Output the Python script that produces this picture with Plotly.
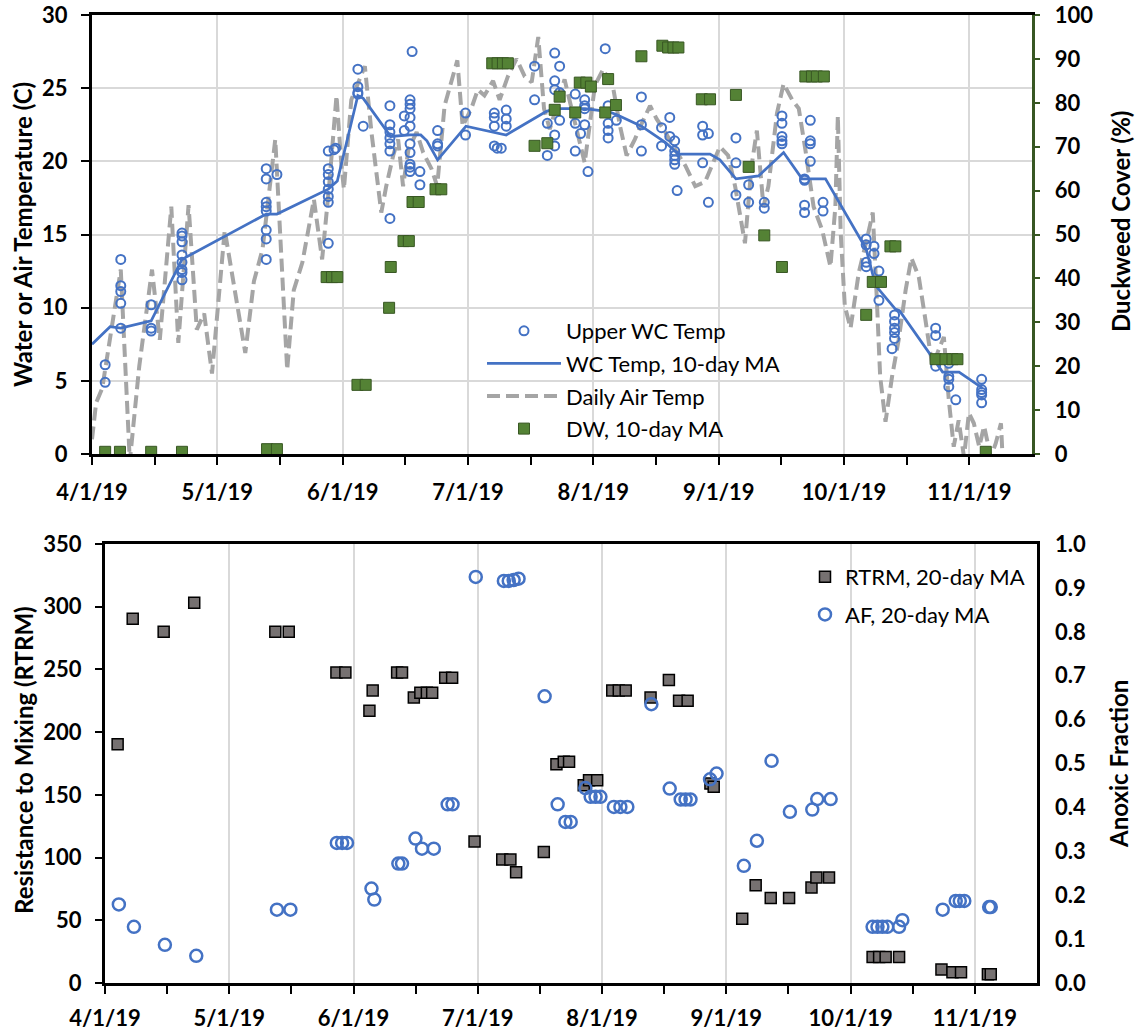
import pandas as pd
import plotly.graph_objects as go

START = pd.Timestamp("2019-04-01")

# ---------------- data (x values are days after 4/1/2019) ----------------
wc_day = [3.2, 3.2,
          7.0, 7.0, 7.0, 7.0, 7.0,
          14.4, 14.4, 14.4,
          21.9, 21.9, 21.9, 21.9, 21.9, 21.9, 21.9, 21.9,
          42.4, 42.4, 42.4, 42.4, 42.4, 42.4, 42.4, 42.4,
          45.0,
          57.5, 57.5, 57.5, 57.5, 57.5, 57.5, 57.5, 57.5,
          58.9, 59.3,
          64.7, 64.7, 64.7, 64.7,
          66.0,
          72.5, 72.5, 72.5, 72.5, 72.5, 72.5, 72.5,
          76.0, 76.0,
          77.4, 77.4, 77.4, 77.4, 77.4, 77.4, 77.4, 77.4, 77.4, 77.4,
          77.9,
          79.8, 79.8,
          84.1, 84.1, 84.1,
          90.9, 90.9,
          97.9, 97.9, 97.9, 97.9, 98.6, 99.6,
          100.8, 100.8, 100.8,
          107.7, 107.7,
          110.8, 110.8,
          112.6, 112.6, 112.6, 112.6, 112.6,
          113.8, 113.8, 113.8,
          117.6, 117.6, 117.6,
          118.9,
          119.9, 119.9, 119.9, 119.9, 120.7,
          124.9,
          125.6, 125.6, 125.6, 125.6,
          127.6,
          133.7, 133.7, 133.7,
          138.6, 138.6,
          140.6, 140.6,
          141.8, 141.8, 141.8, 141.8, 141.8,
          142.4,
          148.6, 148.6, 148.6,
          150.0, 150.0,
          156.7, 156.7, 156.7,
          159.8, 159.8,
          163.6, 163.6,
          167.9, 167.9, 167.9, 167.9, 167.9,
          173.4, 173.4, 173.4, 173.4,
          174.8, 174.8, 174.8, 174.8,
          177.9, 177.9,
          188.4, 188.4, 188.4, 188.4,
          190.3, 190.3,
          191.5, 191.5,
          195.3, 195.3, 195.3, 195.3, 195.3, 194.7,
          205.3, 205.3, 205.3,
          208.5, 208.5, 208.5, 208.5, 210.2,
          216.5, 216.5, 216.5, 216.5, 216.5]
wc_temp = [6.1, 4.9,
           13.3, 11.5, 11.1, 10.3, 8.6,
           10.2, 8.6, 8.4,
           15.1, 14.9, 14.5, 13.6, 13.1, 12.6, 12.4, 11.9,
           19.5, 18.8, 17.2, 16.9, 16.6, 15.3, 14.7, 13.3,
           19.1,
           20.7, 19.5, 19.1, 18.6, 18.1, 17.6, 17.2, 14.4,
           20.8, 20.9,
           26.3, 25.1, 24.7, 24.6,
           22.4,
           23.8, 22.5, 22.0, 21.6, 21.2, 20.7, 16.1,
           23.1, 22.1,
           24.2, 23.9, 23.6, 23.0, 22.4, 21.2, 20.6, 19.8, 19.6, 19.3,
           27.5,
           19.3, 18.4,
           22.1, 21.2, 21.05,
           23.3, 21.8,
           23.3, 23.0, 22.4, 21.05, 20.9, 20.9,
           23.5, 22.9, 22.4,
           26.5, 24.2,
           22.6, 20.4,
           27.4, 25.5, 24.9, 21.8, 21.05,
           26.5, 24.7, 22.8,
           24.6, 22.6, 20.7,
           21.9,
           24.2, 23.8, 23.6, 22.5, 19.3,
           27.7,
           23.8, 22.6, 22.1, 21.6,
           22.8,
           24.4, 22.5, 20.7,
           22.3, 21.05,
           23.0, 21.7,
           21.4, 20.7, 20.4, 20.1, 19.8,
           18.0,
           22.4, 21.8, 19.9,
           21.9, 17.2,
           21.6, 19.9, 17.7,
           18.4, 17.2,
           17.2, 16.8,
           23.1, 22.6, 21.7, 21.4, 21.2,
           18.8, 18.7, 17.0, 16.5,
           22.8, 21.4, 21.2, 20.0,
           17.2, 16.6,
           14.7, 14.3, 13.1, 12.8,
           14.2, 13.7,
           12.5, 10.5,
           9.5, 9.06, 8.6, 8.3, 7.9, 7.2,
           8.6, 8.1, 6.0,
           6.2, 5.3, 5.1, 4.6, 3.7,
           5.1, 4.4, 4.2, 4.04, 3.5]

wcma_day = [0, 4.4, 7.0, 14.4, 21.9, 42.4, 45.0, 57.5, 59.7, 64.7, 66.0, 72.7,
            77.4, 80.0, 81.5, 84.1, 91.0, 97.9, 100.8, 110.5, 112.6, 120.0,
            125.6, 127.6, 133.7, 139.5, 142.7, 150.4, 152.8, 156.7, 162.2,
            168.3, 172.8, 178.5, 188.4, 190.7, 195.5, 196.5, 204.5, 207.0,
            211.0, 216.7]
wcma_temp = [7.5, 8.7, 8.6, 9.1, 13.3, 16.4, 16.4, 18.1, 18.65, 24.5, 24.3, 21.7,
             21.8, 21.8, 21.4, 20.1, 22.4, 22.0, 21.8, 23.4, 23.6, 23.6,
             23.4, 23.2, 22.4, 21.3, 20.5, 20.5, 20.1, 18.8, 19.0,
             20.6, 18.8, 18.8, 14.0, 11.5, 9.9, 9.8, 6.55, 5.6,
             5.6, 4.5]

air_day = [0, 1, 2.5, 5, 7, 9.2, 11.5, 14.6, 16.5, 19.3, 21, 23.5, 25.5, 27.3,
           29.2, 32.3, 34.5, 37.3, 39.4, 41.5, 44.6, 47.5, 49.1, 51.2, 54, 56,
           57.7, 59.5, 60.7, 61.3, 63.1, 66.4, 68, 69.2, 70.4, 71.6, 73.3, 74.5,
           75.7, 77, 79, 80.6, 82.6, 84, 85.8, 87.8, 88.9, 90.2, 92.3, 93.9,
           95.5, 97.6, 99.2, 101.2, 103.3, 105.3, 107, 108.6, 110, 111.4,
           113.4, 115, 116.7, 118.7, 119.9, 122.4, 124.4, 126.9, 128.5, 130.1,
           132.1, 133.8, 135.8, 137.4, 139.5, 141.9, 144.4, 146.8, 149.2,
           152.8, 154.8, 156.5, 158.9, 160.5, 161.8, 163.4, 164.6, 166.7,
           168.3, 170.4, 172, 173.6, 175.6, 177.7, 179.7, 180.9, 181.5, 182.2,
           183.2, 184.6, 186.6, 188.6, 190, 191, 191.8, 193.1, 194.7, 196.3,
           198, 199.4, 201.2, 202.8, 204.5, 206, 207.3, 208.5, 209.7, 210.9,
           212.2, 213.4, 214.6, 215.9, 217.1, 218.7, 219.9, 221.2, 221.6]
air_temp = [1.0, 3.5, 4.5, 9.0, 12.6, -0.5, 6.0, 12.6, 7.8, 16.9, 7.6, 17.0, 8.5,
            9.6, 5.5, 15.3, 11.7, 6.9, 11.8, 14.0, 21.5, 5.75, 11.2, 13.1, 17.4,
            13.3, 18.3, 24.5, 19.7, 18.1, 24.2, 26.5, 22.0, 19.2, 16.5, 18.3,
            20.4, 21.5, 18.3, 20.8, 22.0, 20.6, 19.5, 18.3, 23.8, 25.8, 26.9,
            22.4, 23.6, 24.9, 24.5, 25.5, 24.2, 25.8, 27.0, 25.8, 25.4, 28.5,
            23.6, 22.2, 24.2, 25.6, 23.6, 21.3, 19.9, 25.2, 26.3, 24.9, 22.4,
            20.4, 21.5, 22.6, 23.8, 22.9, 22.0, 20.8, 19.7, 18.3, 18.6,
            21.0, 20.4, 18.3, 14.4, 19.7, 22.1, 16.9, 18.3, 23.3,
            25.3, 24.2, 23.6, 20.8, 16.9, 15.3, 12.8, 16.9, 23.1, 15.1,
            10.1, 8.6, 12.4, 14.7, 16.5, 10.5, 5.3, 2.2, 5.3, 7.8,
            11.2, 13.4, 12.1, 9.2, 6.0, 7.1, 8.0, 3.7, 0.5, 2.3,
            -0.2, 2.8, 2.1, 0.5, 1.9, -0.2, 0.7, 2.1, -0.3]

dw_day = [3.2, 6.8, 14.4, 21.9, 42.6, 45.0, 57.1, 58.4, 59.7, 64.6, 66.6,
          72.3, 72.7, 75.8, 77.1, 78.0, 79.5, 83.6, 85.0, 97.4, 98.7, 100.0,
          101.2, 107.7, 110.8, 112.6, 113.8, 117.6, 118.7, 120.3, 121.4,
          124.9, 125.6, 127.5, 133.7, 138.8, 140.2, 141.5, 142.7, 148.4,
          150.4, 156.7, 159.8, 163.6, 167.9, 173.6, 175.2, 176.4, 178.1,
          188.4, 190.0, 192.0, 194.3, 195.5, 205.3, 207.7, 209.4, 210.6,
          217.5]
dw_cover = [0.5, 0.5, 0.5, 0.5, 1.1, 1.1, 40.3, 40.3, 40.3, 15.75, 15.75,
            33.3, 42.6, 48.5, 48.5, 57.4, 57.4, 60.3, 60.3, 89.0, 89.0, 89.0,
            89.0, 70.2, 70.8, 78.4, 81.4, 77.8, 84.6, 84.6, 83.7,
            77.8, 85.4, 79.5, 90.6, 93.0, 92.6, 92.6, 92.6, 80.8,
            80.8, 81.8, 65.4, 49.8, 42.6, 86.0, 86.0, 86.0, 86.0,
            31.7, 39.2, 39.2, 47.3, 47.3, 21.6, 21.6, 21.6, 21.6,
            0.5]

rtrm_day = [3.1, 6.8, 14.4, 21.9, 41.8, 45.1, 56.8, 59.0, 64.9, 65.7, 71.7,
            72.9, 75.8, 77.4, 79.0, 80.3, 83.5, 85.2, 90.7, 97.5, 99.5, 100.9,
            107.7, 110.8, 112.6, 113.9, 117.5, 118.8, 120.8, 124.5, 126.1,
            127.8, 133.9, 138.4, 140.9, 143.0, 148.6, 149.4, 156.4, 159.7,
            163.4, 167.9, 173.4, 174.6, 177.7, 188.4, 190.0, 191.6, 194.9,
            205.3, 208.0, 210.1, 216.7, 217.4]
rtrm_val = [190.4, 290.4, 280.0, 303.2, 280.0, 280.0, 247.6, 247.6, 217.0, 233.3,
            247.6, 247.6, 227.7, 231.4, 231.4, 231.4, 243.4, 243.4, 112.8, 98.4,
            98.4, 88.3, 104.5, 174.5, 176.3, 176.3, 157.7, 161.7, 161.7, 233.3,
            233.3, 233.3, 227.7, 241.5, 225.0, 225.0, 159.0, 156.4, 51.3, 77.9,
            67.8, 67.8, 76.1, 84.1, 84.1, 20.7, 20.7, 20.7, 20.7,
            10.7, 8.5, 8.5, 6.9, 6.9]

af_day = [3.4, 7.1, 14.7, 22.4, 42.2, 45.5, 56.9, 58.2, 59.4, 65.4, 66.1, 72.0,
          72.9, 76.2, 77.8, 80.7, 84.1, 85.3, 91.0, 97.9, 99.1, 100.3, 101.5,
          107.9, 111.1, 113.0, 114.3, 117.9, 119.2, 120.4, 121.6, 124.9, 126.5,
          128.2, 134.1, 138.6, 141.3, 142.5, 143.7, 148.5, 150.1, 156.8, 160.0,
          163.6, 168.1, 173.6, 174.8, 178.1, 188.4, 189.6, 190.8, 192.0, 194.9,
          195.7, 205.6, 208.8, 209.8, 210.9, 217.0, 217.4]
af_val = [0.179, 0.128, 0.087, 0.062, 0.167, 0.167, 0.319, 0.319, 0.319, 0.215,
          0.190, 0.272, 0.272, 0.329, 0.306, 0.306, 0.407, 0.407, 0.925, 0.916,
          0.916, 0.918, 0.921, 0.653, 0.407, 0.367, 0.367, 0.444, 0.424, 0.424,
          0.424, 0.401, 0.401, 0.401, 0.635, 0.443, 0.418, 0.418, 0.418, 0.464,
          0.477, 0.267, 0.324, 0.506, 0.390, 0.395, 0.419, 0.419, 0.128, 0.128,
          0.128, 0.128, 0.128, 0.143, 0.167, 0.187, 0.187, 0.187, 0.173, 0.173]

tick_text = ["4/1/19", "5/1/19", "6/1/19", "7/1/19", "8/1/19", "9/1/19",
             "10/1/19", "11/1/19"]


def to_dates(days):
    return START + pd.to_timedelta(pd.Series(days, dtype=float), unit="D")


# ---------------- styling ----------------
W, H = 1139, 1034
FONT = "Lato"
TICKFONT = dict(family=FONT, size=22, color="black", weight="bold")
LEGFONT = dict(family=FONT, size=22, color="black")
GRID = "#d9d9d9"
BLUE = "#4472c4"
PAD = "\u00a0\u00a0"

major_vals = to_dates([30.5 * k for k in range(8)])
minor_vals = to_dates([15.25 + 30.5 * k for k in range(7)])
x_range = [START, START + pd.Timedelta(days=228.75)]

fig = go.Figure()

# top panel
fig.add_trace(go.Scatter(x=to_dates(air_day), y=air_temp, mode="lines",
                         name="Daily Air Temp", legendrank=3, legendgroup="g3",
                         line=dict(color="#a5a5a5", width=4, dash="13px,6px"),
                         xaxis="x", yaxis="y", legend="legend"))
fig.add_trace(go.Scatter(x=to_dates(wcma_day), y=wcma_temp, mode="lines",
                         name="WC Temp, 10-day MA", legendrank=2, legendgroup="g2",
                         line=dict(color=BLUE, width=2.75),
                         xaxis="x", yaxis="y", legend="legend"))
fig.add_trace(go.Scatter(x=to_dates(wc_day), y=wc_temp, mode="markers",
                         name="Upper WC Temp", legendrank=1, legendgroup="g1",
                         marker=dict(symbol="circle-open", size=9, color=BLUE,
                                     line=dict(width=2, color=BLUE)),
                         xaxis="x", yaxis="y", legend="legend"))
fig.add_trace(go.Scatter(x=to_dates(dw_day), y=dw_cover, mode="markers",
                         name="DW, 10-day MA", legendrank=4, legendgroup="g4",
                         marker=dict(symbol="square", size=11, color="#548235",
                                     line=dict(width=1, color="#385723")),
                         xaxis="x", yaxis="y2", legend="legend"))

# bottom panel
fig.add_trace(go.Scatter(x=to_dates(rtrm_day), y=rtrm_val, mode="markers",
                         name="RTRM, 20-day MA", legendgroup="b1",
                         marker=dict(symbol="square", size=11, color="#767171",
                                     line=dict(width=1.5, color="black")),
                         xaxis="x2", yaxis="y3", legend="legend2"))
fig.add_trace(go.Scatter(x=to_dates(af_day), y=af_val, mode="markers",
                         name="AF, 20-day MA", legendgroup="b2",
                         marker=dict(symbol="circle-open", size=12, color=BLUE,
                                     line=dict(width=2.5, color=BLUE)),
                         xaxis="x2", yaxis="y4", legend="legend2"))


def px_x(p):
    return p / W


def px_y(p):
    return 1 - p / H


def xaxis_cfg(standoff):
    return dict(type="date", range=x_range, tickvals=major_vals, ticktext=tick_text,
                tickfont=TICKFONT, ticks="outside", ticklen=8, tickwidth=1.5,
                tickcolor="black", showgrid=True, gridcolor=GRID, gridwidth=1.5,
                showline=True, linecolor="black", linewidth=3, mirror=True,
                zeroline=False, automargin=False, ticklabelstandoff=standoff,
                minor=dict(tickvals=minor_vals, ticks="outside", ticklen=8,
                           tickwidth=1.5, tickcolor="black", showgrid=False))


fig.update_layout(
    template="none",
    width=W, height=H,
    margin=dict(l=0, r=0, t=0, b=0, autoexpand=False),
    paper_bgcolor="white", plot_bgcolor="white",
    font=dict(family=FONT, color="black"),
    xaxis=dict(domain=[px_x(92), px_x(1032)], anchor="y", **xaxis_cfg(9)),
    yaxis=dict(domain=[px_y(454), px_y(15)], range=[0, 30], dtick=5,
               tickfont=TICKFONT, ticks="outside", ticklen=8, tickwidth=1.5,
               tickcolor="black", showgrid=True, gridcolor=GRID, gridwidth=1.5,
               showline=True, linecolor="black", linewidth=3, zeroline=False,
               automargin=False, ticklabelstandoff=9),
    yaxis2=dict(overlaying="y", side="right", anchor="x", range=[0, 100], dtick=10,
                tickfont=TICKFONT, ticks="outside", ticklen=5, tickwidth=1.5,
                tickcolor="#385723", showgrid=False, showline=True,
                linecolor="#385723", linewidth=2.5, zeroline=False,
                automargin=False, tickprefix=PAD),
    xaxis2=dict(domain=[px_x(105), px_x(1037)], anchor="y3", **xaxis_cfg(6)),
    yaxis3=dict(domain=[px_y(983), px_y(544)], anchor="x2", range=[0, 350],
                dtick=50, tickfont=TICKFONT, ticks="outside", ticklen=7,
                tickwidth=1.5, tickcolor="black", showgrid=False, showline=True,
                linecolor="black", linewidth=3, zeroline=False, automargin=False,
                ticklabelstandoff=9),
    yaxis4=dict(overlaying="y3", side="right", anchor="x2", range=[0, 1],
                dtick=0.1, tickformat=".1f", tickfont=TICKFONT, ticks="",
                showgrid=False, showline=True, linecolor="black", linewidth=3,
                zeroline=False, automargin=False, tickprefix=PAD),
    legend=dict(x=px_x(482), y=px_y(310), xanchor="left", yanchor="top",
                bgcolor="rgba(0,0,0,0)", font=LEGFONT,
                itemwidth=74, traceorder="grouped", tracegroupgap=1),
    legend2=dict(x=px_x(805), y=px_y(556), xanchor="left", yanchor="top",
                 bgcolor="rgba(0,0,0,0)", font=LEGFONT,
                 itemwidth=30, traceorder="grouped", tracegroupgap=6),
)

TITLEFONT = dict(family=FONT, size=24, color="black", weight="bold")
for text, x, y in [("Water or Air Temperature (C)", 22, 235),
                   ("Duckweed Cover (%)", 1120, 222),
                   ("Resistance to Mixing (RTRM)", 23, 760),
                   ("Anoxic Fraction", 1118, 764)]:
    fig.add_annotation(text=text, x=px_x(x), y=px_y(y), xref="paper", yref="paper",
                       xanchor="center", yanchor="middle", textangle=-90,
                       showarrow=False, font=TITLEFONT)

fig.write_html("out.html")
